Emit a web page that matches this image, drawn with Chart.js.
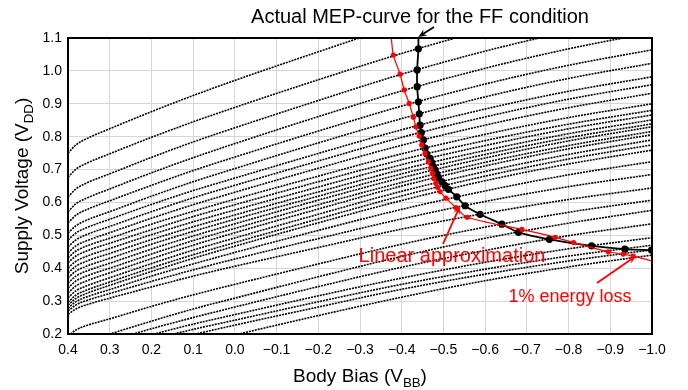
<!DOCTYPE html>
<html>
<head>
<meta charset="utf-8">
<script src="https://cdn.jsdelivr.net/npm/chart.js@4"></script>
<style>
  html, body { margin: 0; padding: 0; background: #fff; }
  #wrap { width: 688px; height: 390px; }
</style>
</head>
<body>
<div id="wrap"><canvas id="chart" width="688" height="390"></canvas></div>
<script>
const contourX = [0.4, 0.38, 0.35, 0.3, 0.2, 0.1, 0.0, -0.2, -0.4, -0.6, -0.8, -1.0];

// supply voltage of each iso-contour at contourX (top curve first);
// the lower ones come in through the bottom edge, values under 0.2 are clipped away
const contourY = [
  [0.750, 0.776, 0.797, 0.824, 0.876, 0.925, 0.971, 1.058, 1.142, 1.216, 1.279, 1.331],
  [0.677, 0.702, 0.722, 0.748, 0.798, 0.845, 0.889, 0.973, 1.053, 1.124, 1.184, 1.235],
  [0.617, 0.642, 0.662, 0.687, 0.737, 0.784, 0.827, 0.910, 0.990, 1.060, 1.120, 1.170],
  [0.572, 0.597, 0.616, 0.641, 0.690, 0.736, 0.779, 0.861, 0.939, 1.008, 1.067, 1.117],
  [0.538, 0.562, 0.581, 0.605, 0.652, 0.697, 0.738, 0.817, 0.893, 0.960, 1.017, 1.064],
  [0.507, 0.530, 0.549, 0.572, 0.619, 0.663, 0.703, 0.781, 0.855, 0.921, 0.977, 1.023],
  [0.486, 0.508, 0.526, 0.549, 0.594, 0.636, 0.674, 0.749, 0.821, 0.884, 0.938, 0.982],
  [0.465, 0.487, 0.505, 0.527, 0.572, 0.614, 0.652, 0.726, 0.798, 0.860, 0.914, 0.958],
  [0.447, 0.469, 0.486, 0.508, 0.552, 0.593, 0.631, 0.704, 0.774, 0.835, 0.888, 0.932],
  [0.432, 0.453, 0.470, 0.491, 0.534, 0.573, 0.610, 0.680, 0.748, 0.807, 0.858, 0.900],
  [0.417, 0.438, 0.455, 0.476, 0.517, 0.557, 0.593, 0.663, 0.730, 0.788, 0.838, 0.880],
  [0.401, 0.422, 0.439, 0.460, 0.502, 0.541, 0.577, 0.647, 0.715, 0.773, 0.824, 0.866],
  [0.386, 0.407, 0.424, 0.445, 0.487, 0.526, 0.562, 0.632, 0.700, 0.758, 0.809, 0.851],
  [0.371, 0.392, 0.409, 0.430, 0.473, 0.512, 0.549, 0.619, 0.687, 0.746, 0.797, 0.839],
  [0.355, 0.377, 0.394, 0.415, 0.458, 0.498, 0.535, 0.607, 0.675, 0.735, 0.787, 0.830],
  [0.340, 0.362, 0.379, 0.400, 0.443, 0.484, 0.521, 0.593, 0.661, 0.722, 0.773, 0.816],
  [0.325, 0.347, 0.364, 0.386, 0.429, 0.470, 0.508, 0.580, 0.650, 0.711, 0.763, 0.806],
  [0.310, 0.332, 0.349, 0.371, 0.414, 0.455, 0.492, 0.564, 0.634, 0.694, 0.746, 0.790],
  [0.297, 0.319, 0.336, 0.358, 0.401, 0.441, 0.478, 0.550, 0.620, 0.680, 0.732, 0.775],
  [0.288, 0.309, 0.326, 0.348, 0.390, 0.430, 0.467, 0.538, 0.606, 0.666, 0.717, 0.759],
  [0.279, 0.299, 0.315, 0.335, 0.376, 0.413, 0.448, 0.515, 0.579, 0.635, 0.684, 0.724],
  [0.270, 0.289, 0.304, 0.323, 0.360, 0.395, 0.428, 0.490, 0.550, 0.603, 0.648, 0.685],
  [0.260, 0.277, 0.291, 0.309, 0.343, 0.376, 0.406, 0.463, 0.519, 0.567, 0.609, 0.644],
  [0.194, 0.213, 0.228, 0.246, 0.284, 0.319, 0.351, 0.413, 0.473, 0.525, 0.570, 0.607],
  [0.146, 0.165, 0.181, 0.200, 0.239, 0.276, 0.309, 0.374, 0.436, 0.491, 0.537, 0.576],
  [0.127, 0.146, 0.160, 0.179, 0.216, 0.250, 0.282, 0.344, 0.403, 0.454, 0.499, 0.535],
  [0.116, 0.133, 0.147, 0.164, 0.198, 0.230, 0.259, 0.316, 0.370, 0.418, 0.459, 0.493],
  [0.103, 0.120, 0.133, 0.149, 0.183, 0.214, 0.242, 0.298, 0.351, 0.397, 0.437, 0.470],
  [0.087, 0.104, 0.117, 0.134, 0.167, 0.198, 0.227, 0.282, 0.336, 0.382, 0.422, 0.456],
  [0.048, 0.066, 0.080, 0.098, 0.133, 0.166, 0.197, 0.256, 0.312, 0.362, 0.404, 0.440]
];

// actual minimum-energy points (black), first entry is where the line leaves the top
const mepX = [-0.440, -0.440, -0.437, -0.437, -0.440, -0.442, -0.444, -0.447, -0.452, -0.456, -0.460, -0.468, -0.472, -0.476, -0.480, -0.484, -0.488, -0.496, -0.504, -0.512, -0.532, -0.552, -0.588, -0.640, -0.680, -0.754, -0.855, -0.935, -0.999];
const mepY = [1.100, 1.067, 1.003, 0.952, 0.906, 0.869, 0.835, 0.812, 0.790, 0.765, 0.747, 0.734, 0.721, 0.709, 0.699, 0.687, 0.676, 0.663, 0.651, 0.640, 0.617, 0.590, 0.564, 0.534, 0.509, 0.488, 0.468, 0.458, 0.455];

// linear approximation (red)
const approxX = [-0.375, -0.380, -0.396, -0.406, -0.418, -0.428, -0.434, -0.442, -0.448, -0.456, -0.464, -0.470, -0.474, -0.477, -0.482, -0.486, -0.492, -0.506, -0.530, -0.557, -0.688, -0.768, -0.812, -0.895, -0.931, -0.955, -1.000];
const approxY = [1.100, 1.048, 0.990, 0.942, 0.901, 0.859, 0.830, 0.802, 0.775, 0.749, 0.724, 0.704, 0.689, 0.673, 0.658, 0.646, 0.633, 0.613, 0.584, 0.555, 0.518, 0.494, 0.478, 0.450, 0.443, 0.437, 0.422];
const approxDots = [false, true, true, true, true, true, true, true, true, true, true, true, true, true, true, true, true, true, true, true, true, true, true, true, true, true, false];

const xTicks = [0.4, 0.3, 0.2, 0.1, 0.0, -0.1, -0.2, -0.3, -0.4, -0.5, -0.6, -0.7, -0.8, -0.9, -1.0];

const FONT = '"Liberation Sans", Arial, Helvetica, sans-serif';

function pairs(xs, ys) {
  return xs.map((x, i) => ({ x, y: ys[i] }));
}

function fmt(v) {
  const s = (Math.abs(v) < 1e-9 ? 0 : v).toFixed(1);
  return s.replace('-', '\u2212');
}

const datasets = [];
contourY.forEach((ys) => {
  datasets.push({
    data: pairs(contourX, ys),
    showLine: true,
    borderColor: '#000',
    borderWidth: 1.6,
    borderDash: [2, 1],
    pointRadius: 0,
    cubicInterpolationMode: 'monotone',
    order: 3
  });
});

datasets.push({
  data: pairs(approxX, approxY),
  showLine: true,
  borderColor: '#ff0000',
  backgroundColor: '#ff0000',
  borderWidth: 1.2,
  pointRadius: approxDots.map((d) => (d ? 2.6 : 0)),
  pointBorderWidth: 0,
  tension: 0.3,
  order: 1
});

datasets.push({
  data: pairs(mepX, mepY),
  showLine: true,
  borderColor: '#000',
  backgroundColor: '#000',
  borderWidth: 1.8,
  pointRadius: mepY.map((y, i) => (i === 0 ? 0 : 3.6)),
  pointBorderWidth: 0,
  tension: 0.3,
  order: 2
});

function arrow(ctx, x1, y1, x2, y2, color) {
  const ang = Math.atan2(y2 - y1, x2 - x1);
  const len = 9;
  ctx.save();
  ctx.strokeStyle = color;
  ctx.fillStyle = color;
  ctx.lineWidth = 1.8;
  ctx.beginPath();
  ctx.moveTo(x1, y1);
  ctx.lineTo(x2 - Math.cos(ang) * 4, y2 - Math.sin(ang) * 4);
  ctx.stroke();
  ctx.beginPath();
  ctx.moveTo(x2, y2);
  ctx.lineTo(x2 - len * Math.cos(ang - 0.4), y2 - len * Math.sin(ang - 0.4));
  ctx.lineTo(x2 - len * 0.6 * Math.cos(ang), y2 - len * 0.6 * Math.sin(ang));
  ctx.lineTo(x2 - len * Math.cos(ang + 0.4), y2 - len * Math.sin(ang + 0.4));
  ctx.closePath();
  ctx.fill();
  ctx.restore();
}

function subText(ctx, main, sub, tail, x, y, size) {
  // main text + lowered subscript + tail, centred on x
  ctx.font = `${size}px ${FONT}`;
  const w1 = ctx.measureText(main).width;
  const w3 = ctx.measureText(tail).width;
  ctx.font = `${size * 0.7}px ${FONT}`;
  const w2 = ctx.measureText(sub).width;
  let cx = x - (w1 + w2 + w3) / 2;
  ctx.textAlign = 'left';
  ctx.textBaseline = 'alphabetic';
  ctx.font = `${size}px ${FONT}`;
  ctx.fillText(main, cx, y);
  cx += w1;
  ctx.font = `${size * 0.7}px ${FONT}`;
  ctx.fillText(sub, cx, y + size * 0.25);
  cx += w2;
  ctx.font = `${size}px ${FONT}`;
  ctx.fillText(tail, cx, y);
}

const decorations = {
  id: 'decorations',
  afterDraw(chart) {
    const { ctx, chartArea: a, scales } = chart;
    const xs = scales.x;
    ctx.save();
    ctx.strokeStyle = '#000';
    ctx.lineWidth = 2;
    ctx.strokeRect(a.left, a.top, a.right - a.left, a.bottom - a.top);

    ctx.fillStyle = '#000';
    ctx.font = `20px ${FONT}`;
    ctx.textAlign = 'center';
    ctx.textBaseline = 'alphabetic';
    ctx.fillText('Actual MEP-curve for the FF condition', 420, 23);
    arrow(ctx, 434, 27, xs.getPixelForValue(-0.44), a.top - 1, '#000');

    ctx.fillStyle = '#ff0000';
    ctx.font = `20px ${FONT}`;
    ctx.fillText('Linear approximation', 452, 262);
    arrow(ctx, 443, 244, 460, 206, '#ff0000');

    ctx.font = `18px ${FONT}`;
    ctx.fillText('1% energy loss', 570, 302);
    arrow(ctx, 597, 283, 636, 256, '#ff0000');

    ctx.fillStyle = '#000';
    subText(ctx, 'Body Bias (V', 'BB', ')', (a.left + a.right) / 2, 382, 19);
    ctx.translate(28, (a.top + a.bottom) / 2);
    ctx.rotate(-Math.PI / 2);
    subText(ctx, 'Supply Voltage (V', 'DD', ')', 0, 0, 19);
    ctx.restore();
  }
};

new Chart(document.getElementById('chart'), {
  type: 'scatter',
  data: { datasets },
  plugins: [decorations],
  options: {
    responsive: false,
    animation: false,
    events: [],
    layout: { padding: { left: 0, right: 36, top: 38, bottom: 0 } },
    plugins: { legend: { display: false }, tooltip: { enabled: false } },
    scales: {
      x: {
        type: 'linear',
        reverse: true,
        min: -1.0,
        max: 0.4,
        afterFit: (s) => { s.height = 56; },
        afterBuildTicks: (s) => { s.ticks = xTicks.map((v) => ({ value: v })); },
        grid: { color: '#d6d6d6', lineWidth: 1, drawTicks: false },
        border: { display: false },
        ticks: { color: '#000', padding: 8, font: { family: FONT, size: 14 }, callback: (v) => fmt(v), maxRotation: 0, autoSkip: false }
      },
      y: {
        type: 'linear',
        min: 0.2,
        max: 1.1,
        afterFit: (s) => { s.width = 68; },
        grid: { color: '#d6d6d6', lineWidth: 1, drawTicks: false },
        border: { display: false },
        ticks: { color: '#000', padding: 6, stepSize: 0.1, font: { family: FONT, size: 14 }, callback: (v) => fmt(v) }
      }
    }
  }
});
</script>
</body>
</html>
